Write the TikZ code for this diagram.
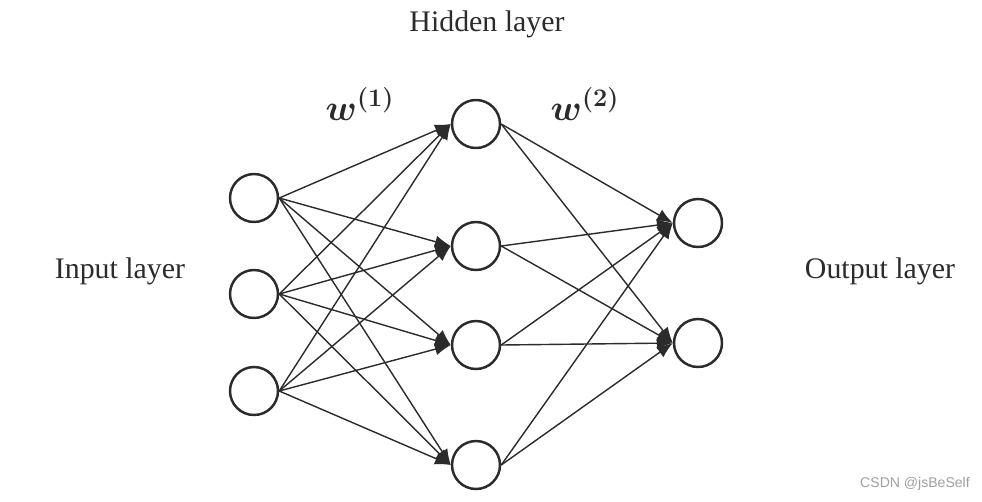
\documentclass[tikz,border=0pt]{standalone}
\usepackage{amsmath}
\usepackage{fontspec}
\setmainfont{Liberation Serif}
\newfontfamily\marksans{Liberation Sans}
\usetikzlibrary{arrows.meta}
\definecolor{ink}{HTML}{2B2B2B}
\definecolor{mark}{HTML}{A0A0A0}

\begin{document}
\begin{tikzpicture}[x=0.02cm,y=-0.02cm,
  neuron/.style={circle,draw=ink,line width=1.4pt,minimum size=0.96cm,inner sep=0pt},
  link/.style={ink,line width=0.8pt,-{Latex[length=9pt,width=7pt]}},
  lbl/.style={font=\fontsize{17}{20}\selectfont,text=ink}]
  \useasboundingbox (0,0) rectangle (982,501);

  % input layer
  \node[neuron] (in1) at (254,198) {};
  \node[neuron] (in2) at (254,294) {};
  \node[neuron] (in3) at (254,391) {};
  % hidden layer
  \node[neuron] (hid1) at (476,124) {};
  \node[neuron] (hid2) at (476,246) {};
  \node[neuron] (hid3) at (476,345) {};
  \node[neuron] (hid4) at (476,465) {};
  % output layer
  \node[neuron] (out1) at (698,223) {};
  \node[neuron] (out2) at (698,343) {};

  \foreach \i in {1,2,3}
    \foreach \j in {1,2,3,4}
      \draw[link] (in\i.east) -- (hid\j.west);
  \foreach \j in {1,2,3,4}
    \foreach \k in {1,2}
      \draw[link] (hid\j.east) -- (out\k.west);

  \node[lbl] (hidlbl) at (487,24) {Hidden layer};
  \node[lbl] (inlbl) at (120,271) {Input layer};
  \node[lbl] (outlbl) at (880,271) {Output layer};
  \node[text=ink,font=\fontsize{20}{24}\selectfont] (w1) at (360,104) {$\boldsymbol{w^{(1)}}$};
  \node[text=ink,font=\fontsize{20}{24}\selectfont] (w2) at (585,104) {$\boldsymbol{w^{(2)}}$};
  \node[text=mark,font=\marksans\fontsize{8}{10}\selectfont] (csdn) at (915,484) {CSDN @jsBeSelf};
\end{tikzpicture}
\end{document}
